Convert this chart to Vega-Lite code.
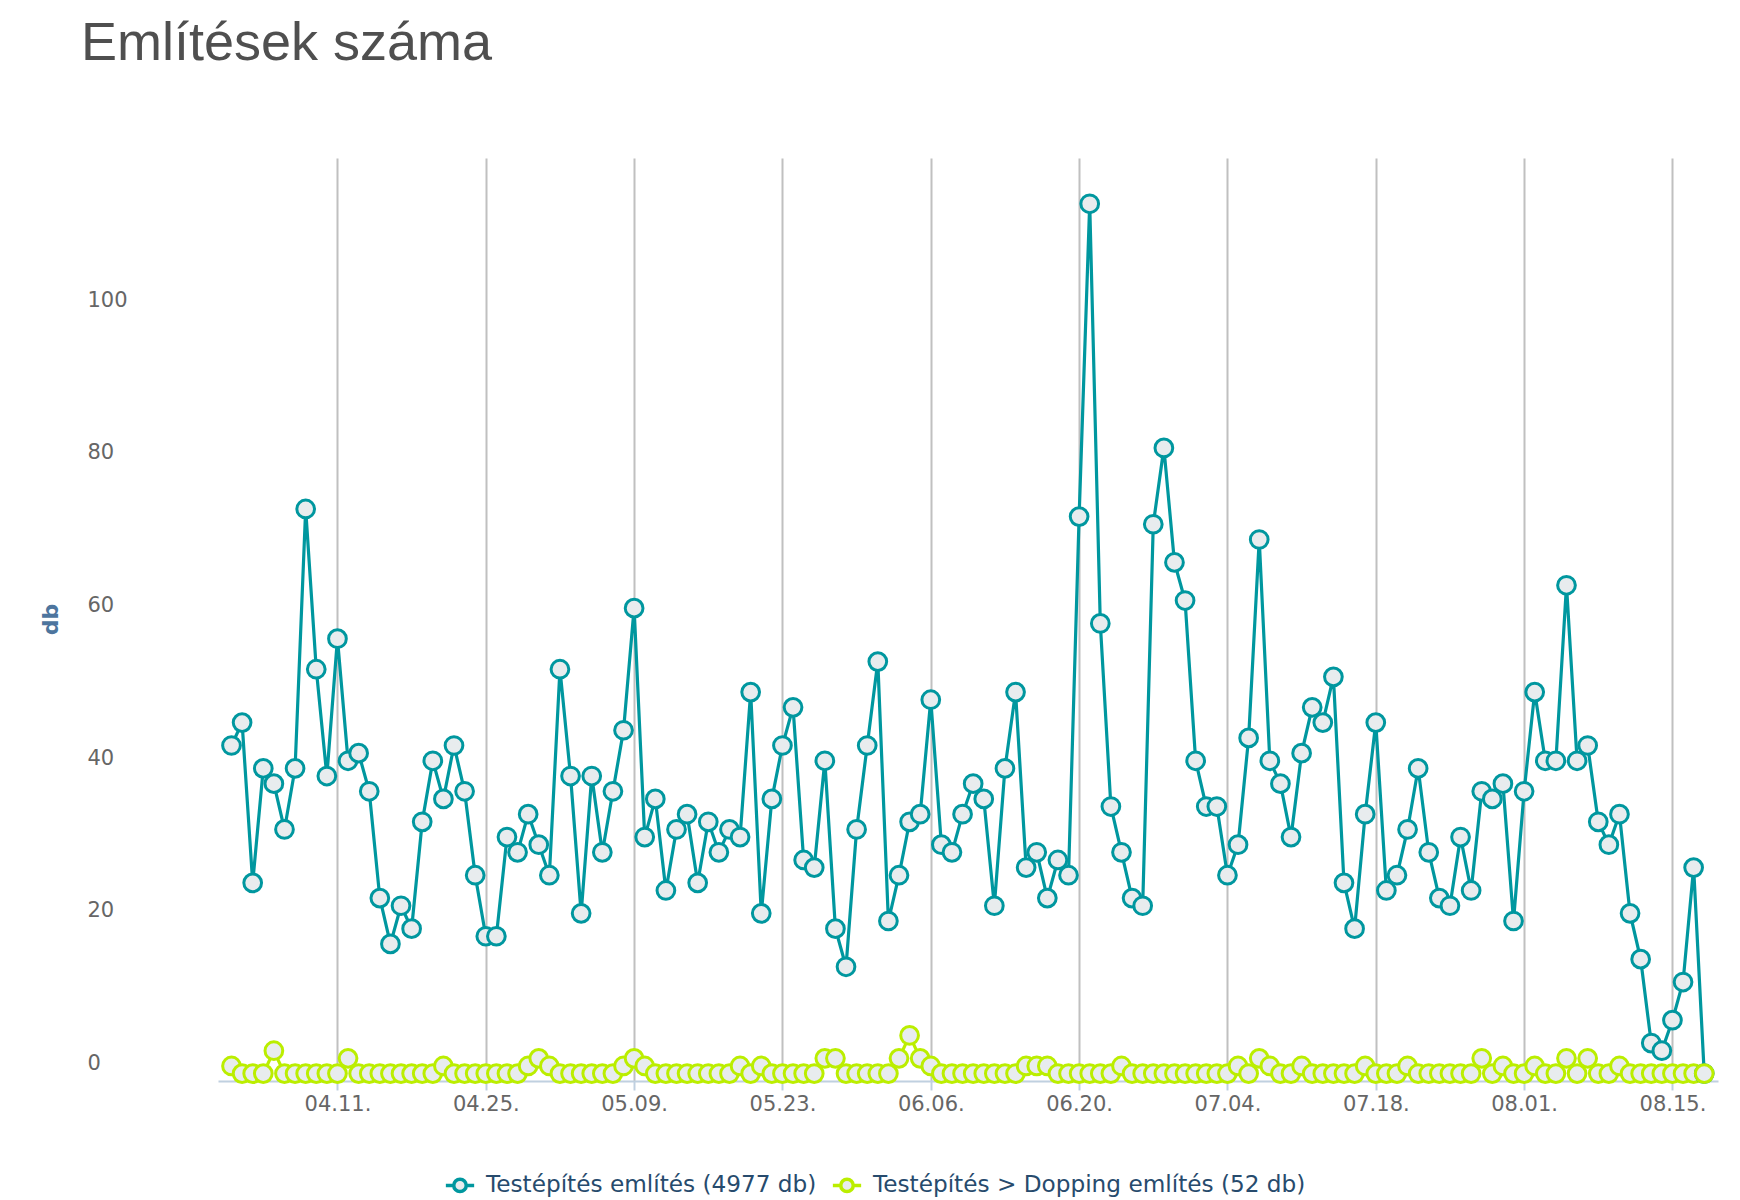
{
  "$schema": "https://vega.github.io/schema/vega-lite/v6.json",
  "width": 1500,
  "height": 923,
  "autosize": {"type": "none"},
  "padding": {"left": 218, "top": 158, "right": 22, "bottom": 119},
  "background": "white",
  "title": {"text": "Említések száma", "anchor": "start", "frame": "group", "font": "Liberation Sans", "fontSize": 54, "fontWeight": "normal", "color": "#4f4f4f", "dx": -137, "offset": 87},
  "config": {"view": {"stroke": null}},
  "data": {"values": [
    {"date": "2016-04-01", "testepites": 43, "dopping": 1},
    {"date": "2016-04-02", "testepites": 46, "dopping": 0},
    {"date": "2016-04-03", "testepites": 25, "dopping": 0},
    {"date": "2016-04-04", "testepites": 40, "dopping": 0},
    {"date": "2016-04-05", "testepites": 38, "dopping": 3},
    {"date": "2016-04-06", "testepites": 32, "dopping": 0},
    {"date": "2016-04-07", "testepites": 40, "dopping": 0},
    {"date": "2016-04-08", "testepites": 74, "dopping": 0},
    {"date": "2016-04-09", "testepites": 53, "dopping": 0},
    {"date": "2016-04-10", "testepites": 39, "dopping": 0},
    {"date": "2016-04-11", "testepites": 57, "dopping": 0},
    {"date": "2016-04-12", "testepites": 41, "dopping": 2},
    {"date": "2016-04-13", "testepites": 42, "dopping": 0},
    {"date": "2016-04-14", "testepites": 37, "dopping": 0},
    {"date": "2016-04-15", "testepites": 23, "dopping": 0},
    {"date": "2016-04-16", "testepites": 17, "dopping": 0},
    {"date": "2016-04-17", "testepites": 22, "dopping": 0},
    {"date": "2016-04-18", "testepites": 19, "dopping": 0},
    {"date": "2016-04-19", "testepites": 33, "dopping": 0},
    {"date": "2016-04-20", "testepites": 41, "dopping": 0},
    {"date": "2016-04-21", "testepites": 36, "dopping": 1},
    {"date": "2016-04-22", "testepites": 43, "dopping": 0},
    {"date": "2016-04-23", "testepites": 37, "dopping": 0},
    {"date": "2016-04-24", "testepites": 26, "dopping": 0},
    {"date": "2016-04-25", "testepites": 18, "dopping": 0},
    {"date": "2016-04-26", "testepites": 18, "dopping": 0},
    {"date": "2016-04-27", "testepites": 31, "dopping": 0},
    {"date": "2016-04-28", "testepites": 29, "dopping": 0},
    {"date": "2016-04-29", "testepites": 34, "dopping": 1},
    {"date": "2016-04-30", "testepites": 30, "dopping": 2},
    {"date": "2016-05-01", "testepites": 26, "dopping": 1},
    {"date": "2016-05-02", "testepites": 53, "dopping": 0},
    {"date": "2016-05-03", "testepites": 39, "dopping": 0},
    {"date": "2016-05-04", "testepites": 21, "dopping": 0},
    {"date": "2016-05-05", "testepites": 39, "dopping": 0},
    {"date": "2016-05-06", "testepites": 29, "dopping": 0},
    {"date": "2016-05-07", "testepites": 37, "dopping": 0},
    {"date": "2016-05-08", "testepites": 45, "dopping": 1},
    {"date": "2016-05-09", "testepites": 61, "dopping": 2},
    {"date": "2016-05-10", "testepites": 31, "dopping": 1},
    {"date": "2016-05-11", "testepites": 36, "dopping": 0},
    {"date": "2016-05-12", "testepites": 24, "dopping": 0},
    {"date": "2016-05-13", "testepites": 32, "dopping": 0},
    {"date": "2016-05-14", "testepites": 34, "dopping": 0},
    {"date": "2016-05-15", "testepites": 25, "dopping": 0},
    {"date": "2016-05-16", "testepites": 33, "dopping": 0},
    {"date": "2016-05-17", "testepites": 29, "dopping": 0},
    {"date": "2016-05-18", "testepites": 32, "dopping": 0},
    {"date": "2016-05-19", "testepites": 31, "dopping": 1},
    {"date": "2016-05-20", "testepites": 50, "dopping": 0},
    {"date": "2016-05-21", "testepites": 21, "dopping": 1},
    {"date": "2016-05-22", "testepites": 36, "dopping": 0},
    {"date": "2016-05-23", "testepites": 43, "dopping": 0},
    {"date": "2016-05-24", "testepites": 48, "dopping": 0},
    {"date": "2016-05-25", "testepites": 28, "dopping": 0},
    {"date": "2016-05-26", "testepites": 27, "dopping": 0},
    {"date": "2016-05-27", "testepites": 41, "dopping": 2},
    {"date": "2016-05-28", "testepites": 19, "dopping": 2},
    {"date": "2016-05-29", "testepites": 14, "dopping": 0},
    {"date": "2016-05-30", "testepites": 32, "dopping": 0},
    {"date": "2016-05-31", "testepites": 43, "dopping": 0},
    {"date": "2016-06-01", "testepites": 54, "dopping": 0},
    {"date": "2016-06-02", "testepites": 20, "dopping": 0},
    {"date": "2016-06-03", "testepites": 26, "dopping": 2},
    {"date": "2016-06-04", "testepites": 33, "dopping": 5},
    {"date": "2016-06-05", "testepites": 34, "dopping": 2},
    {"date": "2016-06-06", "testepites": 49, "dopping": 1},
    {"date": "2016-06-07", "testepites": 30, "dopping": 0},
    {"date": "2016-06-08", "testepites": 29, "dopping": 0},
    {"date": "2016-06-09", "testepites": 34, "dopping": 0},
    {"date": "2016-06-10", "testepites": 38, "dopping": 0},
    {"date": "2016-06-11", "testepites": 36, "dopping": 0},
    {"date": "2016-06-12", "testepites": 22, "dopping": 0},
    {"date": "2016-06-13", "testepites": 40, "dopping": 0},
    {"date": "2016-06-14", "testepites": 50, "dopping": 0},
    {"date": "2016-06-15", "testepites": 27, "dopping": 1},
    {"date": "2016-06-16", "testepites": 29, "dopping": 1},
    {"date": "2016-06-17", "testepites": 23, "dopping": 1},
    {"date": "2016-06-18", "testepites": 28, "dopping": 0},
    {"date": "2016-06-19", "testepites": 26, "dopping": 0},
    {"date": "2016-06-20", "testepites": 73, "dopping": 0},
    {"date": "2016-06-21", "testepites": 114, "dopping": 0},
    {"date": "2016-06-22", "testepites": 59, "dopping": 0},
    {"date": "2016-06-23", "testepites": 35, "dopping": 0},
    {"date": "2016-06-24", "testepites": 29, "dopping": 1},
    {"date": "2016-06-25", "testepites": 23, "dopping": 0},
    {"date": "2016-06-26", "testepites": 22, "dopping": 0},
    {"date": "2016-06-27", "testepites": 72, "dopping": 0},
    {"date": "2016-06-28", "testepites": 82, "dopping": 0},
    {"date": "2016-06-29", "testepites": 67, "dopping": 0},
    {"date": "2016-06-30", "testepites": 62, "dopping": 0},
    {"date": "2016-07-01", "testepites": 41, "dopping": 0},
    {"date": "2016-07-02", "testepites": 35, "dopping": 0},
    {"date": "2016-07-03", "testepites": 35, "dopping": 0},
    {"date": "2016-07-04", "testepites": 26, "dopping": 0},
    {"date": "2016-07-05", "testepites": 30, "dopping": 1},
    {"date": "2016-07-06", "testepites": 44, "dopping": 0},
    {"date": "2016-07-07", "testepites": 70, "dopping": 2},
    {"date": "2016-07-08", "testepites": 41, "dopping": 1},
    {"date": "2016-07-09", "testepites": 38, "dopping": 0},
    {"date": "2016-07-10", "testepites": 31, "dopping": 0},
    {"date": "2016-07-11", "testepites": 42, "dopping": 1},
    {"date": "2016-07-12", "testepites": 48, "dopping": 0},
    {"date": "2016-07-13", "testepites": 46, "dopping": 0},
    {"date": "2016-07-14", "testepites": 52, "dopping": 0},
    {"date": "2016-07-15", "testepites": 25, "dopping": 0},
    {"date": "2016-07-16", "testepites": 19, "dopping": 0},
    {"date": "2016-07-17", "testepites": 34, "dopping": 1},
    {"date": "2016-07-18", "testepites": 46, "dopping": 0},
    {"date": "2016-07-19", "testepites": 24, "dopping": 0},
    {"date": "2016-07-20", "testepites": 26, "dopping": 0},
    {"date": "2016-07-21", "testepites": 32, "dopping": 1},
    {"date": "2016-07-22", "testepites": 40, "dopping": 0},
    {"date": "2016-07-23", "testepites": 29, "dopping": 0},
    {"date": "2016-07-24", "testepites": 23, "dopping": 0},
    {"date": "2016-07-25", "testepites": 22, "dopping": 0},
    {"date": "2016-07-26", "testepites": 31, "dopping": 0},
    {"date": "2016-07-27", "testepites": 24, "dopping": 0},
    {"date": "2016-07-28", "testepites": 37, "dopping": 2},
    {"date": "2016-07-29", "testepites": 36, "dopping": 0},
    {"date": "2016-07-30", "testepites": 38, "dopping": 1},
    {"date": "2016-07-31", "testepites": 20, "dopping": 0},
    {"date": "2016-08-01", "testepites": 37, "dopping": 0},
    {"date": "2016-08-02", "testepites": 50, "dopping": 1},
    {"date": "2016-08-03", "testepites": 41, "dopping": 0},
    {"date": "2016-08-04", "testepites": 41, "dopping": 0},
    {"date": "2016-08-05", "testepites": 64, "dopping": 2},
    {"date": "2016-08-06", "testepites": 41, "dopping": 0},
    {"date": "2016-08-07", "testepites": 43, "dopping": 2},
    {"date": "2016-08-08", "testepites": 33, "dopping": 0},
    {"date": "2016-08-09", "testepites": 30, "dopping": 0},
    {"date": "2016-08-10", "testepites": 34, "dopping": 1},
    {"date": "2016-08-11", "testepites": 21, "dopping": 0},
    {"date": "2016-08-12", "testepites": 15, "dopping": 0},
    {"date": "2016-08-13", "testepites": 4, "dopping": 0},
    {"date": "2016-08-14", "testepites": 3, "dopping": 0},
    {"date": "2016-08-15", "testepites": 7, "dopping": 0},
    {"date": "2016-08-16", "testepites": 12, "dopping": 0},
    {"date": "2016-08-17", "testepites": 27, "dopping": 0},
    {"date": "2016-08-18", "testepites": 0, "dopping": 0}
  ]},
  "transform": [{"fold": ["testepites", "dopping"], "as": ["series", "value"]}],
  "encoding": {
    "x": {
      "field": "date", "type": "temporal",
      "scale": {"type": "utc", "domain": [
        {"year": 2016, "month": 3, "date": 30, "hours": 17, "minutes": 25, "utc": true},
        {"year": 2016, "month": 8, "date": 19, "hours": 7, "minutes": 12, "utc": true}
      ]},
      "axis": {
        "values": [
          {"year": 2016, "month": 4, "date": 11, "utc": true},
          {"year": 2016, "month": 4, "date": 25, "utc": true},
          {"year": 2016, "month": 5, "date": 9, "utc": true},
          {"year": 2016, "month": 5, "date": 23, "utc": true},
          {"year": 2016, "month": 6, "date": 6, "utc": true},
          {"year": 2016, "month": 6, "date": 20, "utc": true},
          {"year": 2016, "month": 7, "date": 4, "utc": true},
          {"year": 2016, "month": 7, "date": 18, "utc": true},
          {"year": 2016, "month": 8, "date": 1, "utc": true},
          {"year": 2016, "month": 8, "date": 15, "utc": true}
        ],
        "format": "%m.%d.",
        "title": null,
        "labelFont": "DejaVu Sans", "labelFontSize": 21, "labelColor": "#666666",
        "labelPadding": 3, "labelFlush": false, "labelOverlap": false,
        "tickSize": 9, "tickColor": "#c0d0e0", "tickWidth": 2,
        "domainColor": "#c0d0e0", "domainWidth": 2,
        "grid": true, "gridColor": "#c0c0c0", "gridWidth": 2
      }
    },
    "y": {
      "field": "value", "type": "quantitative",
      "scale": {"domain": [-0.97, 120], "nice": false, "zero": false},
      "axis": {
        "values": [0, 20, 40, 60, 80, 100],
        "domain": false, "ticks": false, "tickSize": 0, "grid": false,
        "labelAlign": "left", "labelPadding": 131, "labelOffset": -10.3,
        "labelFont": "DejaVu Sans", "labelFontSize": 21, "labelColor": "#666666", "labelFlush": false,
        "title": "db", "titleFont": "DejaVu Sans", "titleFontSize": 22, "titleFontWeight": "bold",
        "titleColor": "#4d759e", "titleX": -168, "titleY": 461, "titleAngle": -90,
        "titleAlign": "center", "titleBaseline": "middle"
      }
    },
    "stroke": {"field": "series", "type": "nominal",
      "scale": {"domain": ["testepites", "dopping"], "range": ["#00979f", "#bbee00"]},
      "legend": {
        "orient": "none", "legendX": 226, "legendY": 1011,
        "direction": "horizontal", "columns": 2, "title": null, "padding": 0,
        "labelExpr": "datum.value == 'testepites' ? 'Testépítés említés (4977 db)' : 'Testépítés > Dopping említés (52 db)'",
        "labelFont": "DejaVu Sans", "labelFontSize": 23.2, "labelColor": "#274b6d",
        "labelOffset": 10, "columnPadding": 8, "labelLimit": 800,
        "symbolType": "M-1,0L-0.44,0M0.44,0L1,0M-0.44,0A0.44,0.44,0,1,1,0.44,0A0.44,0.44,0,1,1,-0.44,0Z",
        "symbolSize": 800, "symbolStrokeWidth": 3.5, "symbolFillColor": "#e8ecee"
      }}
  },
  "layer": [
    {
      "mark": {"type": "line", "strokeWidth": 3.2}
    },
    {
      "mark": {"type": "point", "shape": "circle", "filled": true, "fill": "#e8ecee", "size": 314, "strokeWidth": 3, "opacity": 1}
    }
  ]
}
